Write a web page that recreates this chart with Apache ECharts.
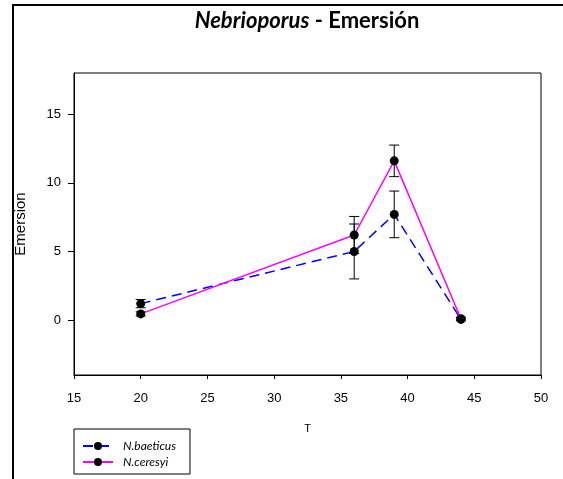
<!DOCTYPE html>
<html>
<head>
<meta charset="utf-8">
<script src="https://cdn.jsdelivr.net/npm/echarts@6/dist/echarts.min.js"></script>
<style>html,body{margin:0;padding:0;background:#fff}#c{width:563px;height:479px}</style>
</head>
<body>
<div id="c"></div>
<script>
const T = [20, 36, 39, 44];
const baeticus = [1.2, 5.0, 7.7, 0.05];
const baeticusErr = [0.3, 2.0, 1.7, 0.1];
const ceresyi = [0.45, 6.2, 11.6, 0.1];
const ceresyiErr = [0.15, 1.35, 1.15, 0.1];
const xTicks = [15, 20, 25, 30, 35, 40, 45, 50];
const yTicks = [0, 5, 10, 15];

const chart = echarts.init(document.getElementById('c'));

function errData(vals, errs) {
  return T.map((t, i) => [t, vals[i] - errs[i], vals[i] + errs[i]]);
}
function errRender(params, api) {
  const x = api.value(0);
  const lo = api.coord([x, api.value(1)]);
  const hi = api.coord([x, api.value(2)]);
  const w = 5;
  const st = { stroke: '#000', lineWidth: 1 };
  return {
    type: 'group',
    children: [
      { type: 'line', shape: { x1: lo[0], y1: lo[1], x2: hi[0], y2: hi[1] }, style: st },
      { type: 'line', shape: { x1: lo[0] - w, y1: lo[1], x2: lo[0] + w, y2: lo[1] }, style: st },
      { type: 'line', shape: { x1: hi[0] - w, y1: hi[1], x2: hi[0] + w, y2: hi[1] }, style: st }
    ]
  };
}
function yTickRender(params, api) {
  const p = api.coord([api.value(0), api.value(1)]);
  const y = Math.round(p[1]) + 0.5;
  return {
    type: 'line',
    shape: { x1: p[0] - 6, y1: y, x2: p[0], y2: y },
    style: { stroke: '#000', lineWidth: 1 }
  };
}

chart.setOption({
  animation: false,
  title: {
    text: '{i|Nebrioporus}{b| - Emersión}',
    left: 302, top: 5, textAlign: 'center',
    textStyle: {
      rich: {
        i: { fontFamily: 'Lato', fontWeight: 'bold', fontStyle: 'italic', fontSize: 22, color: '#000' },
        b: { fontFamily: 'Lato', fontWeight: 'bold', fontSize: 22, color: '#000' }
      }
    }
  },
  graphic: [{
    type: 'rect', z: 100,
    shape: { x: 13, y: 5, width: 600, height: 520 },
    style: { fill: 'none', stroke: '#000', lineWidth: 2 }
  }],
  legend: {
    orient: 'vertical', left: 74, top: 429,
    data: ['N.baeticus', 'N.ceresyi'],
    itemWidth: 30, itemHeight: 10, itemGap: 4,
    padding: [11, 14, 6, 8],
    borderColor: '#000', borderWidth: 1,
    backgroundColor: '#fff',
    textStyle: { fontFamily: 'Lato', fontStyle: 'italic', fontSize: 12, color: '#000', padding: [0, 0, 0, 5] }
  },
  grid: { left: 74, right: 22, top: 73, bottom: 104, show: true, borderColor: '#000', borderWidth: 1, outerBoundsMode: 'none', containLabel: false },
  xAxis: {
    type: 'value', min: 15, max: 50, interval: 5,
    name: 'T', nameLocation: 'middle', nameGap: 48,
    nameTextStyle: { fontFamily: 'Liberation Sans', fontSize: 11, color: '#000' },
    axisLine: { onZero: false, lineStyle: { color: '#000' } },
    axisTick: { show: true, inside: false, length: 4, lineStyle: { color: '#000' } },
    axisLabel: { fontFamily: 'Liberation Sans', fontSize: 13, color: '#000', margin: 17 },
    splitLine: { show: false }
  },
  yAxis: {
    type: 'value', min: -4, max: 18,
    name: 'Emersion', nameLocation: 'middle', nameGap: 46, nameMoveOverlap: false,
    nameTextStyle: { fontFamily: 'Liberation Sans', fontSize: 15, color: '#000' },
    axisLine: { show: true, onZero: false, lineStyle: { color: '#000' } },
    axisTick: { show: false },
    axisLabel: { fontFamily: 'Liberation Sans', fontSize: 13, color: '#000', margin: 13, customValues: yTicks },
    splitLine: { show: false }
  },
  series: [
    {
      type: 'custom', renderItem: yTickRender, data: yTicks.map(v => [xTicks[0], v]),
      encode: { x: 0, y: 1 }, clip: false, silent: true, z: 2
    },
    {
      type: 'custom', renderItem: errRender, data: errData(baeticus, baeticusErr),
      encode: { x: 0, y: [1, 2] }, z: 3, silent: true
    },
    {
      type: 'custom', renderItem: errRender, data: errData(ceresyi, ceresyiErr),
      encode: { x: 0, y: [1, 2] }, z: 3, silent: true
    },
    {
      name: 'N.baeticus', type: 'line', data: T.map((t, i) => [t, baeticus[i]]),
      symbol: 'circle', symbolSize: 9,
      itemStyle: { color: '#000' },
      lineStyle: { color: '#0000ff', width: 1.5, type: [10, 6] },
      z: 4
    },
    {
      name: 'N.ceresyi', type: 'line', data: T.map((t, i) => [t, ceresyi[i]]),
      symbol: 'circle', symbolSize: 9,
      itemStyle: { color: '#000' },
      lineStyle: { color: '#ff00ff', width: 1.5 },
      z: 5
    }
  ]
});
</script>
</body>
</html>
